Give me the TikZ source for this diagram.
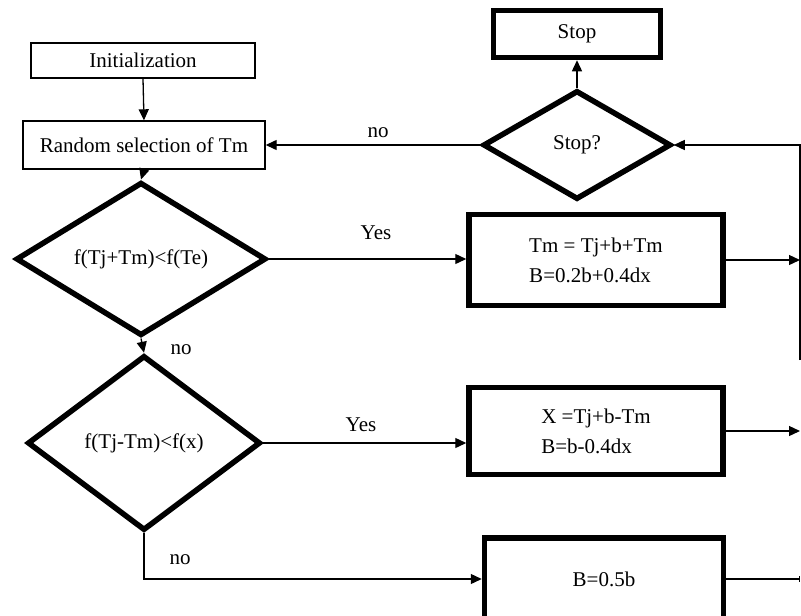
\documentclass[tikz,border=0pt]{standalone}
\usepackage{fontspec}
\setmainfont{Liberation Serif}
\usetikzlibrary{shapes.geometric,arrows.meta}
\begin{document}
\begin{tikzpicture}[x=1pt,y=-1pt,
  thinbox/.style={draw,line width=1.4pt,rectangle,inner sep=0pt,font=\fontsize{21}{30}\selectfont},
  thickbox/.style={draw,line width=5.5pt,rectangle,inner sep=0pt,font=\fontsize{21}{30}\selectfont,align=left},
  dec/.style={draw,line width=5.5pt,diamond,inner sep=0pt,font=\fontsize{21}{30}\selectfont},
  lbl/.style={font=\fontsize{21}{30}\selectfont,inner sep=0pt},
  arr/.style={line width=1.3pt,-{Triangle[length=11pt,width=10pt]}},
  ln/.style={line width=1.3pt}]
\useasboundingbox (0,0) rectangle (801,616);
% nodes
\node[thinbox,minimum width=224pt,minimum height=35pt] (init) at (143,60.5) {Initialization};
\node[thinbox,minimum width=242pt,minimum height=48pt] (rand) at (144,145) {Random selection of Tm};
\node[dec,minimum width=250pt,minimum height=134pt] (d1) at (141,259) {f(Tj+Tm)<f(Te)};
\node[dec,minimum width=233pt,minimum height=175pt] (d2) at (144,443) {f(Tj-Tm)<f(x)};
\node[thickbox,minimum width=167pt,minimum height=47pt,align=center] (stop) at (577,34) {Stop};
\node[dec,minimum width=188pt,minimum height=109pt] (ds) at (577,145) {Stop?};
\node[thickbox,minimum width=254pt,minimum height=91pt] (b1) at (596,260) {Tm = Tj+b+Tm\\B=0.2b+0.4dx};
\node[thickbox,minimum width=254pt,minimum height=87pt] (b2) at (596,431) {X =Tj+b-Tm\\B=b-0.4dx};
\node[thickbox,minimum width=239pt,minimum height=82pt,align=center] (b3) at (604,579) {B=0.5b};
% coordinates on the right
\coordinate (rtop) at (800,145);
\coordinate (rbot) at (800,360);
% connectors
\draw[arr] (init.south) -- (rand.north);
\draw[arr] (rand.south) -- (d1.north);
\draw[arr] (d1.east) -- (d1.east -| b1.west);
\draw[arr] (d1.south) -- (d2.north);
\draw[arr] (d2.east) -- (d2.east -| b2.west);
\draw[arr] (d2.south) |- (b3.west);
\draw[arr] (b1.east) -- (b1.east -| rtop);
\draw[arr] (b2.east) -- (b2.east -| rtop);
\draw[ln,-{Bar[width=6pt]}] (b3.east) -- (b3.east -| rtop);
\draw[arr] (rbot) -- (rtop) -- (ds.east);
\draw[arr] (ds.west) -- (rand.east);
\draw[arr] (ds.north) -- (stop.south);
% labels
\node[lbl] (yes1) at (376,233) {Yes};
\node[lbl] (yes2) at (361,425) {Yes};
\node[lbl] (no1) at (181,350) {no};
\node[lbl] (no2) at (180,560) {no};
\node[lbl] (no3) at (378,133) {no};
\end{tikzpicture}
\end{document}
